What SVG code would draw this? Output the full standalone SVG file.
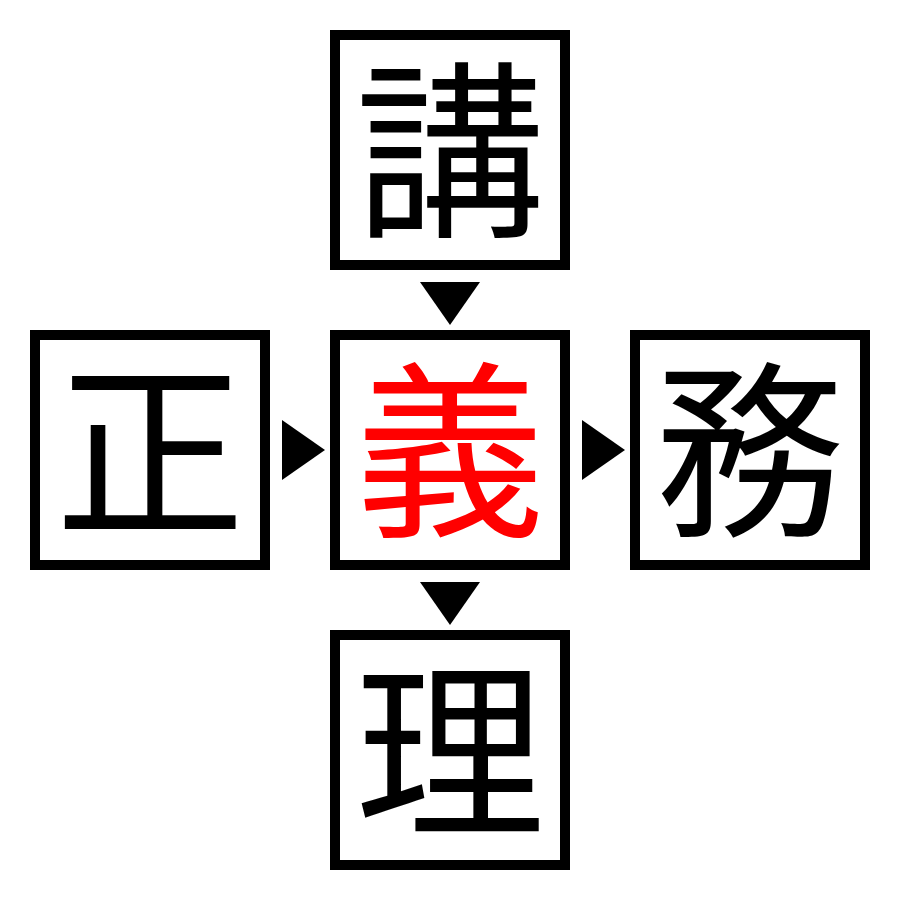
<svg xmlns="http://www.w3.org/2000/svg" width="900" height="900" viewBox="0 0 900 900">
<style>
.box{fill:#fff;stroke:#000;stroke-width:10}
.ch{font-family:"Noto Sans CJK JP","Noto Sans CJK SC",sans-serif;font-size:190px;text-anchor:middle;fill:#000}
.red{fill:#ff0000}
.arr{fill:#000}
</style>
<rect width="900" height="900" fill="#fff"/>
<g id="connectors">
<polygon class="arr" points="420,282 480,282 450,325"/>
<polygon class="arr" points="282,420 282,480 325,450"/>
<polygon class="arr" points="582,420 582,480 625,450"/>
<polygon class="arr" points="420,582 480,582 450,625"/>
</g>
<g id="node-top"><rect class="box" x="335" y="35" width="230" height="230"/><text class="ch" x="450" y="222">講</text></g>
<g id="node-left"><rect class="box" x="35" y="335" width="230" height="230"/><text class="ch" x="150" y="522">正</text></g>
<g id="node-center"><rect class="box" x="335" y="335" width="230" height="230"/><text class="ch red" x="450" y="522">義</text></g>
<g id="node-right"><rect class="box" x="635" y="335" width="230" height="230"/><text class="ch" x="750" y="522">務</text></g>
<g id="node-bottom"><rect class="box" x="335" y="635" width="230" height="230"/><text class="ch" x="450" y="822">理</text></g>
</svg>
